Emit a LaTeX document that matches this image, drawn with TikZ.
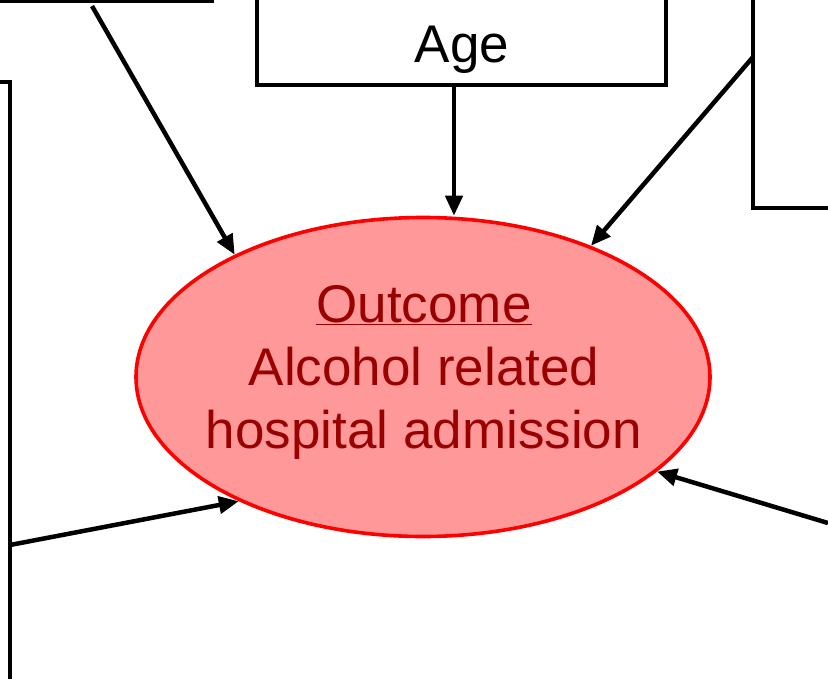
\documentclass[tikz,border=0pt]{standalone}
\usepackage{fontspec}
\setmainfont{Liberation Sans}
\usetikzlibrary{shapes.geometric,arrows.meta}
\definecolor{ellfill}{HTML}{FF9999}
\definecolor{ellline}{HTML}{FF0000}
\definecolor{elltext}{HTML}{990000}
\begin{document}
\begin{tikzpicture}[x=1pt,y=-1pt,
  box/.style={draw=black,line width=3.2pt,rectangle,inner sep=0pt,outer sep=0pt},
  arr/.style={draw=black,line width=4.5pt,-{Triangle[length=20pt,width=17pt]}},
  big/.style={font=\fontsize{53}{63}\selectfont}]
\useasboundingbox (0,0) rectangle (828,678);
\clip (0,0) rectangle (828,678);
% boxes (partly outside the frame)
\node[box,minimum width=512pt,minimum height=101.5pt] (tl) at (-44,-49) {};
\node[box,minimum width=310pt,minimum height=718pt] (lb) at (-145,441) {};
\node[box,minimum width=409pt,minimum height=185pt] (age) at (461.5,-7.5) {};
\node[big,anchor=base] (agetxt) at (462,62) {Age};
\node[box,minimum width=347pt,minimum height=308pt] (rb) at (926.5,54) {};
% outcome ellipse
\node[ellipse,draw=ellline,fill=ellfill,line width=3.6pt,minimum width=574pt,minimum height=319pt,inner sep=0pt] (ell) at (423,377) {};
\node[big,text=elltext,align=center,anchor=base] (txt) at (424,448) {\underline{Outcome}\\Alcohol related\\hospital admission};
% arrow start points
\coordinate (s1) at (92,6);
\coordinate (s2) at (454,85);
\coordinate (s3) at (753,57);
\coordinate (s4) at (10,545);
\coordinate (s5) at (828,523);
\draw[arr] (s1) -- (ell.147);
\draw[arr] (s2) -- (s2 |- ell.north);
\draw[arr] (s3) -- (ell.38);
\draw[arr] (s4) -- (ell.214);
\draw[arr] (s5) -- (ell.-22.5);
\end{tikzpicture}
\end{document}
